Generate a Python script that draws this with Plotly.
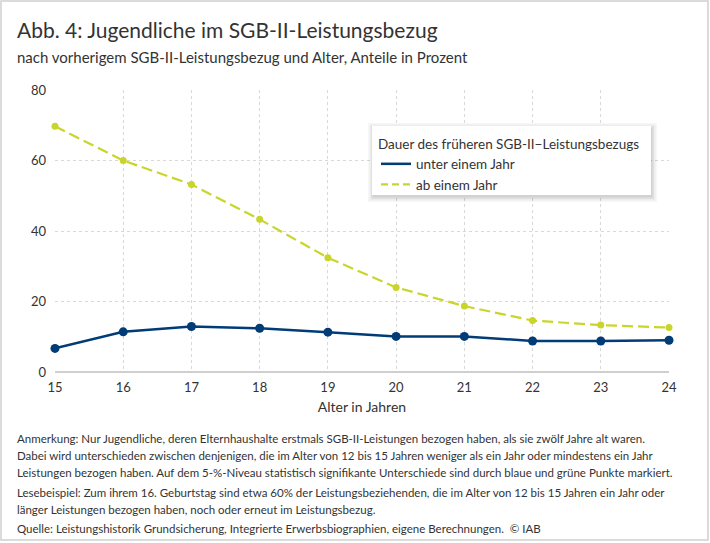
import plotly.graph_objects as go

# Alter in Jahren
alter = [15, 16, 17, 18, 19, 20, 21, 22, 23, 24]
# Anteile in Prozent
unter_einem_jahr = [6.7, 11.4, 12.9, 12.4, 11.3, 10.1, 10.1, 8.8, 8.8, 9.0]
ab_einem_jahr = [69.7, 60.0, 53.2, 43.3, 32.4, 24.0, 18.7, 14.6, 13.3, 12.6]
y_ticks = [0, 20, 40, 60, 80]

FONT = 'Lato'
TXT = '#333333'
BLUE = '#013c77'
GREEN = '#c9d52c'

# plot area in pixels (710 x 543 window)
L, R, T, B = 55, 669, 90, 372
W, H = 710, 543


def px(x):
    return (x - L) / (R - L)


def py(y):
    return (B - y) / (B - T)


fig = go.Figure()

fig.add_trace(go.Scatter(
    x=alter, y=unter_einem_jahr, name='unter einem Jahr', showlegend=False,
    mode='lines+markers', cliponaxis=False,
    line=dict(color=BLUE, width=2.5),
    marker=dict(color=BLUE, size=9),
))
fig.add_trace(go.Scatter(
    x=alter, y=ab_einem_jahr, name='ab einem Jahr', showlegend=False,
    mode='lines+markers', cliponaxis=False,
    line=dict(color=GREEN, width=2.2, dash='11px,5px'),
    marker=dict(color=GREEN, size=7),
))
# legend entries drawn as plain lines
fig.add_trace(go.Scatter(x=[None], y=[None], name='unter einem Jahr', mode='lines',
                         line=dict(color=BLUE, width=2.5)))
fig.add_trace(go.Scatter(x=[None], y=[None], name='ab einem Jahr', mode='lines',
                         line=dict(color=GREEN, width=2.2, dash='7px,4px')))

# outer frame
fig.add_shape(type='rect', xref='paper', yref='paper',
              x0=px(1), x1=px(708), y0=py(540), y1=py(1),
              line=dict(color='#d0d0d0', width=1.5), layer='below')

# legend box with a soft shadow
lx0, lx1, ly0, ly1 = 372, 651, 126, 195
for d, op in [(6, 0.03), (4.5, 0.04), (3, 0.05), (1.5, 0.06)]:
    fig.add_shape(type='rect', xref='paper', yref='paper',
                  x0=px(lx0 - d + 2), x1=px(lx1 + d), y0=py(ly1 + d + 1), y1=py(ly0 - d + 3),
                  fillcolor='rgba(0,0,0,%s)' % op, line=dict(width=0), layer='above')
fig.add_shape(type='rect', xref='paper', yref='paper',
              x0=px(lx0), x1=px(lx1), y0=py(ly1), y1=py(ly0),
              fillcolor='white', line=dict(width=0), layer='above')

title = 'Abb. 4: Jugendliche im SGB-II-Leistungsbezug'
subtitle = 'nach vorherigem SGB-II-Leistungsbezug und Alter, Anteile in Prozent'
notes = [
    ('Anmerkung: Nur Jugendliche, deren Elternhaushalte erstmals SGB-II-Leistungen bezogen haben, als sie zwölf Jahre alt waren.', 438),
    ('Dabei wird unterschieden zwischen denjenigen, die im Alter von 12 bis 15 Jahren weniger als ein Jahr oder mindestens ein Jahr', 455),
    ('Leistungen bezogen haben. Auf dem 5-%-Niveau statistisch signifikante Unterschiede sind durch blaue und grüne Punkte markiert.', 472),
    ('Lesebeispiel: Zum ihrem 16. Geburtstag sind etwa 60% der Leistungsbeziehenden, die im Alter von 12 bis 15 Jahren ein Jahr oder', 492),
    ('länger Leistungen bezogen haben, noch oder erneut im Leistungsbezug.', 509),
    ('Quelle: Leistungshistorik Grundsicherung, Integrierte Erwerbsbiographien, eigene Berechnungen.  © IAB', 528),
]

fig.add_annotation(text=title, xref='paper', yref='paper', x=px(15), y=py(30),
                   xanchor='left', yanchor='middle', showarrow=False,
                   font=dict(family=FONT, size=21, color=TXT))
fig.add_annotation(text=subtitle, xref='paper', yref='paper', x=px(15), y=py(57),
                   xanchor='left', yanchor='middle', showarrow=False,
                   font=dict(family=FONT, size=15, color=TXT))
for txt, ypos in notes:
    fig.add_annotation(text=txt, xref='paper', yref='paper', x=px(15), y=py(ypos),
                       xanchor='left', yanchor='middle', showarrow=False,
                       font=dict(family=FONT, size=11.5, color=TXT))

fig.update_layout(
    width=W, height=H,
    margin=dict(l=L, r=W - R, t=T, b=H - B),
    paper_bgcolor='white', plot_bgcolor='white',
    font=dict(family=FONT, size=13, color=TXT),
    showlegend=True,
    legend=dict(
        title=dict(text='Dauer des früheren SGB-II−Leistungsbezugs', font=dict(size=13.5)),
        x=px(lx0 + 4), y=py(ly0 + 5), xanchor='left', yanchor='top',
        bgcolor='rgba(0,0,0,0)', borderwidth=0,
        font=dict(size=13.5, color=TXT), itemwidth=30, tracegroupgap=0,
    ),
    xaxis=dict(
        range=[15, 24], tickmode='array', tickvals=alter,
        showgrid=True, gridcolor='#d8d8d8', griddash='dot', gridwidth=1,
        zeroline=False, showline=False, ticks='', ticklabelstandoff=6,
        title=dict(text='Alter in Jahren', standoff=8, font=dict(size=14)),
    ),
    yaxis=dict(
        range=[0, 80], tickmode='array', tickvals=y_ticks,
        showgrid=True, gridcolor='#d8d8d8', griddash='dot', gridwidth=1,
        zeroline=True, zerolinecolor='#cfcfcf', zerolinewidth=1.5,
        showline=False, ticks='', ticklabelstandoff=8,
    ),
)

fig.write_html('out.html', config={'displayModeBar': False},
               post_script="document.body.style.margin='0';")
